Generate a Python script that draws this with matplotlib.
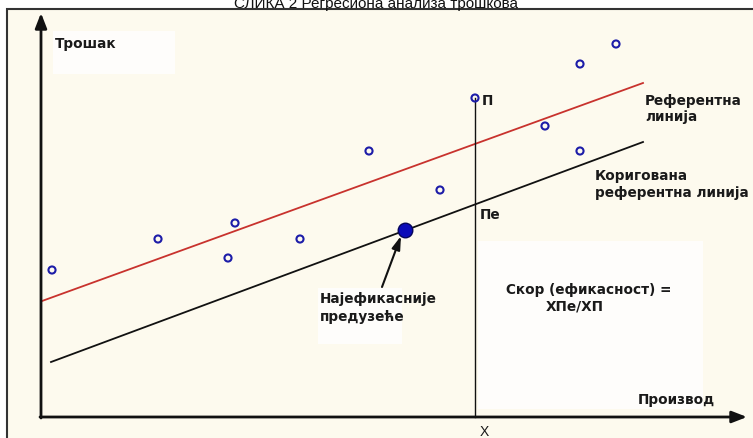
import matplotlib
matplotlib.use("Agg")
import matplotlib.pyplot as plt
from matplotlib.patches import Rectangle

plt.rcParams['font.family'] = ['Liberation Sans', 'DejaVu Sans']

# firms: output (Производ) vs cost (Трошак), arbitrary units
firm_output = [1.1, 11.7, 19.4, 18.7, 25.9, 32.8, 39.9, 43.4, 50.4, 53.9, 53.9, 57.5]
firm_cost = [14.7, 17.8, 19.4, 15.9, 17.8, 26.6, 22.7, 31.9, 29.1, 26.6, 35.3, 37.3]

# most efficient firm
best_output = [36.4]
best_cost = [18.7]

# reference (regression) line and corrected reference line, end points
ref_x = [0.1, 60.2]
ref_y = [11.6, 33.4]
corr_x = [1.0, 60.2]
corr_y = [5.5, 27.5]

# firm П and its projection on the corrected line
p_output = 43.4
p_cost = 31.9

title = "СЛИКА 2 Регресиона анализа трошкова"

fig = plt.figure(figsize=(7.53, 4.39), dpi=100)
ax = fig.add_axes([0, 0, 1, 1])
ax.set_xlim(-4.1, 71.2)
ax.set_ylim(-2.1, 41.8)
ax.axis('off')

# cream panel with frame
ax.add_patch(Rectangle((-3.4, -10), 90, 50.8, facecolor='#fdfaee',
                       edgecolor='#333333', lw=1.5, zorder=0))
# white patches behind the text blocks
for (x0, y0, w, h) in [(1.2, 34.3, 12.2, 4.3), (27.7, 7.3, 8.4, 5.6),
                       (43.7, 0.8, 22.5, 16.8)]:
    ax.add_patch(Rectangle((x0, y0), w, h, facecolor='white',
                           edgecolor='none', alpha=0.8, zorder=0.5))

fig.text(0.5, 1 - 8 / 439, title, ha='center', va='baseline',
         fontsize=11, color='#111111')

# axes with arrow heads
arrow = dict(arrowstyle='-|>,head_length=0.9,head_width=0.35', color='#111111',
             lw=2, shrinkA=0, shrinkB=0)
ax.annotate('', xy=(0, 40.4), xytext=(0, -0.1), arrowprops=arrow, zorder=3)
ax.annotate('', xy=(70.6, 0), xytext=(-0.1, 0), arrowprops=arrow, zorder=3)

ax.plot(ref_x, ref_y, color='#c8322d', lw=1.3, zorder=2)
ax.plot(corr_x, corr_y, color='#111111', lw=1.3, zorder=2)
ax.plot([p_output, p_output], [0, p_cost], color='#111111', lw=1.0, zorder=2)

ax.scatter(firm_output, firm_cost, s=26, facecolor='none', edgecolor='#1c1ca8',
           lw=1.5, zorder=4)
ax.scatter(best_output, best_cost, s=110, facecolor='#0b0bb8', edgecolor='#05055a',
           lw=1.0, zorder=4)

ax.annotate('', xy=(36.0, 18.1), xytext=(34.1, 13.0),
            arrowprops=dict(arrowstyle='-|>,head_length=0.8,head_width=0.25',
                            color='#111111', lw=1.5, shrinkA=0, shrinkB=0), zorder=3)

tk = dict(fontsize=9.8, fontweight='bold', color='#1a1a1a', zorder=5,
          family=['DejaVu Sans'])
ax.text(1.4, 37.4, 'Трошак', va='center', **tk)
ax.text(44.1, 31.7, 'П', va='center', **tk)
ax.text(60.4, 30.9, 'Референтна\nлинија', va='center', linespacing=1.25, **tk)
ax.text(55.4, 23.35, 'Коригована\nреферентна линија', va='center',
        linespacing=1.25, **tk)
ax.text(43.9, 20.3, 'Пе', va='center', **tk)
ax.text(27.9, 11.0, 'Најефикасније\nпредузеће', va='center', linespacing=1.35, **tk)
ax.text(46.5, 12.8, 'Скор (ефикасност) =', va='center', **tk)
ax.text(53.4, 11.1, 'ХПе/ХП', va='center', ha='center', **tk)
ax.text(59.7, 1.8, 'Производ', va='center', **tk)
ax.text(44.3, -1.4, 'Х', va='center', ha='center', fontsize=10, color='#1a1a1a')

fig.savefig('out.png', dpi=100, facecolor='white')
